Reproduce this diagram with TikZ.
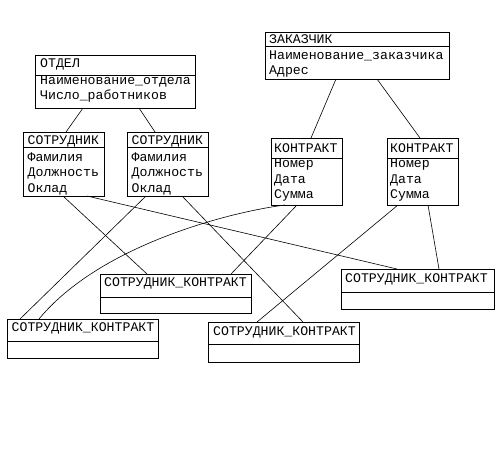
\documentclass[tikz,border=0pt]{standalone}
\usepackage{fontspec}
\setmonofont{Liberation Mono}
\tikzset{entity/.style={draw, line width=0.8pt, anchor=north west,
         inner sep=0pt, outer sep=0pt},
         lbl/.style={anchor=base west, inner sep=0pt,
         font=\ttfamily\fontsize{13.2}{15}\selectfont},
         link/.style={line width=0.6pt}}

\begin{document}
\begin{tikzpicture}[x=1pt,y=-1pt]
  \useasboundingbox (0,0) rectangle (500,450);

  % ОТДЕЛ
  \node[entity, minimum width=160pt, minimum height=53pt] (otdel) at (35,55) {};
  \draw[line width=0.8pt] ([yshift=-20pt]otdel.north west) -- ([yshift=-20pt]otdel.north east);
  \node[lbl] (otdel-t) at (40,67) {ОТДЕЛ};
  \node[lbl] (otdel-a) at (40,84) {Наименование\_отдела};
  \node[lbl] (otdel-b) at (40,99) {Число\_работников};

  % СОТРУДНИК
  \node[entity, minimum width=81pt, minimum height=64pt] (sotr1) at (23,132) {};
  \draw[line width=0.8pt] ([yshift=-15pt]sotr1.north west) -- ([yshift=-15pt]sotr1.north east);
  \node[lbl] (sotr1-t) at (27.5,144) {СОТРУДНИК};
  \node[lbl] (sotr1-a) at (27.5,161) {Фамилия};
  \node[lbl] (sotr1-b) at (27.5,176.5) {Должность};
  \node[lbl] (sotr1-c) at (27.5,192) {Оклад};

  \node[entity, minimum width=81pt, minimum height=64pt] (sotr2) at (127,132) {};
  \draw[line width=0.8pt] ([yshift=-15pt]sotr2.north west) -- ([yshift=-15pt]sotr2.north east);
  \node[lbl] (sotr2-t) at (131.5,144) {СОТРУДНИК};
  \node[lbl] (sotr2-a) at (131.5,161) {Фамилия};
  \node[lbl] (sotr2-b) at (131.5,176.5) {Должность};
  \node[lbl] (sotr2-c) at (131.5,192) {Оклад};

  % ЗАКАЗЧИК
  \node[entity, minimum width=184pt, minimum height=47pt] (zak) at (265,32) {};
  \draw[line width=0.8pt] ([yshift=-14pt]zak.north west) -- ([yshift=-14pt]zak.north east);
  \node[lbl] (zak-t) at (269,43) {ЗАКАЗЧИК};
  \node[lbl] (zak-a) at (269,59) {Наименование\_заказчика};
  \node[lbl] (zak-b) at (269,74) {Адрес};

  % КОНТРАКТ
  \node[entity, minimum width=71pt, minimum height=67pt] (kontr1) at (271,138) {};
  \draw[line width=0.8pt] ([yshift=-20pt]kontr1.north west) -- ([yshift=-20pt]kontr1.north east);
  \node[lbl] (kontr1-t) at (274,152.5) {КОНТРАКТ};
  \node[lbl] (kontr1-a) at (274,167) {Номер};
  \node[lbl] (kontr1-b) at (274,183) {Дата};
  \node[lbl] (kontr1-c) at (274,198.5) {Сумма};

  \node[entity, minimum width=71pt, minimum height=67pt] (kontr2) at (387,138) {};
  \draw[line width=0.8pt] ([yshift=-20pt]kontr2.north west) -- ([yshift=-20pt]kontr2.north east);
  \node[lbl] (kontr2-t) at (390,152.5) {КОНТРАКТ};
  \node[lbl] (kontr2-a) at (390,167) {Номер};
  \node[lbl] (kontr2-b) at (390,183) {Дата};
  \node[lbl] (kontr2-c) at (390,198.5) {Сумма};

  % СОТРУДНИК_КОНТРАКТ
  \node[entity, minimum width=151pt, minimum height=39pt] (skA) at (100,274) {};
  \draw[line width=0.8pt] ([yshift=-23pt]skA.north west) -- ([yshift=-23pt]skA.north east);
  \node[lbl] (skA-t) at (104,286.5) {СОТРУДНИК\_КОНТРАКТ};

  \node[entity, minimum width=151pt, minimum height=39pt] (skB) at (7,319) {};
  \draw[line width=0.8pt] ([yshift=-22pt]skB.north west) -- ([yshift=-22pt]skB.north east);
  \node[lbl] (skB-t) at (11.5,331.5) {СОТРУДНИК\_КОНТРАКТ};

  \node[entity, minimum width=151pt, minimum height=40pt] (skC) at (208,322) {};
  \draw[line width=0.8pt] ([yshift=-22pt]skC.north west) -- ([yshift=-22pt]skC.north east);
  \node[lbl] (skC-t) at (213,335) {СОТРУДНИК\_КОНТРАКТ};

  \node[entity, minimum width=153pt, minimum height=40pt] (skD) at (341,269) {};
  \draw[line width=0.8pt] ([yshift=-23pt]skD.north west) -- ([yshift=-23pt]skD.north east);
  \node[lbl] (skD-t) at (345,282.5) {СОТРУДНИК\_КОНТРАКТ};

  % links
  \draw[link] ([xshift=48pt]otdel.south west) -- ([xshift=43pt]sotr1.north west);
  \draw[link] ([xshift=104pt]otdel.south west) -- ([xshift=28pt]sotr2.north west);
  \draw[link] ([xshift=71pt]zak.south west) -- ([xshift=40pt]kontr1.north west);
  \draw[link] ([xshift=112pt]zak.south west) -- ([xshift=33pt]kontr2.north west);

  \draw[link] ([xshift=40pt]sotr1.south west) -- ([xshift=47pt]skA.north west);
  \draw[link] ([xshift=64pt]sotr1.south west) -- ([xshift=56pt]skD.north west);
  \draw[link] ([xshift=19pt]sotr2.south west) -- ([xshift=13pt]skB.north west);
  \draw[link] ([xshift=55pt]sotr2.south west) -- ([xshift=95pt]skC.north west);
  \draw[link] ([xshift=26pt]kontr1.south west) -- ([xshift=131pt]skA.north west);
  \draw[link] ([xshift=14pt]kontr1.south west) .. controls (230,212) and (100,245) .. ([xshift=32pt]skB.north west);
  \draw[link] ([xshift=11pt]kontr2.south west) -- ([xshift=49pt]skC.north west);
  \draw[link] ([xshift=41pt]kontr2.south west) -- ([xshift=98pt]skD.north west);

\end{tikzpicture}
\end{document}
